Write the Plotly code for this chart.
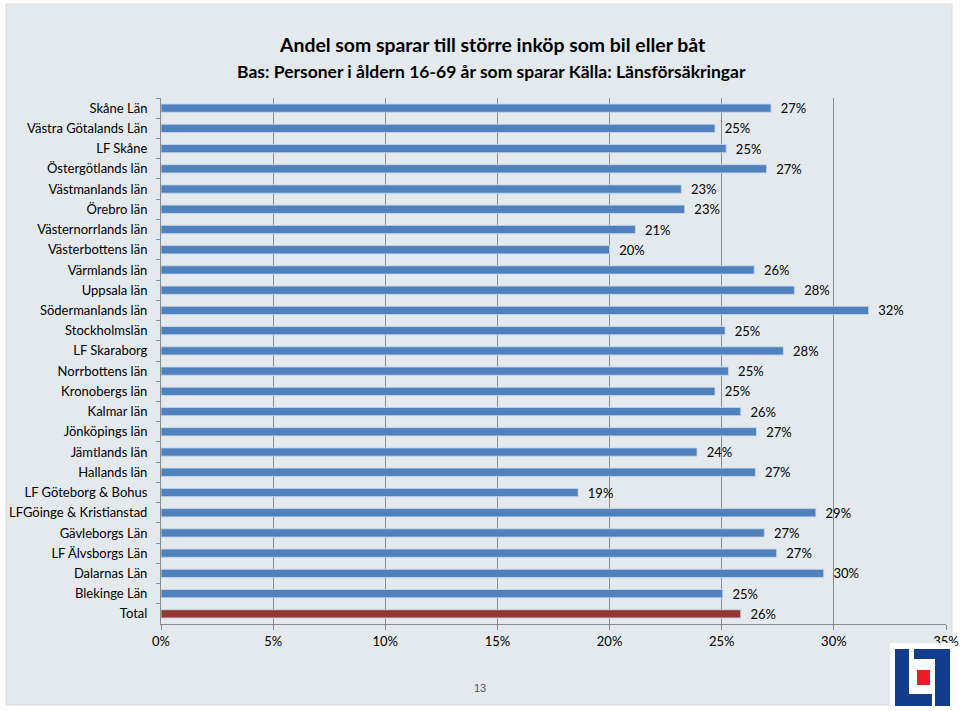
import plotly.graph_objects as go

categories = [
    "Skåne Län", "Västra Götalands Län", "LF Skåne", "Östergötlands län",
    "Västmanlands län", "Örebro län", "Västernorrlands län", "Västerbottens län",
    "Värmlands län", "Uppsala län", "Södermanlands län", "Stockholmslän",
    "LF Skaraborg", "Norrbottens län", "Kronobergs län", "Kalmar län",
    "Jönköpings län", "Jämtlands län", "Hallands län", "LF Göteborg & Bohus",
    "LFGöinge & Kristianstad", "Gävleborgs Län", "LF Älvsborgs Län",
    "Dalarnas Län", "Blekinge Län", "Total",
]
values = [
    27.2, 24.7, 25.2, 27.0, 23.2, 23.35, 21.15, 20.0, 26.45, 28.25, 31.55, 25.15,
    27.75, 25.3, 24.7, 25.85, 26.55, 23.9, 26.5, 18.6, 29.2, 26.9, 27.45, 29.55,
    25.05, 25.85,
]
labels = ["27%", "25%", "25%", "27%", "23%", "23%", "21%", "20%", "26%", "28%",
          "32%", "25%", "28%", "25%", "25%", "26%", "27%", "24%", "27%", "19%",
          "29%", "27%", "27%", "30%", "25%", "26%"]
x_ticks = [0, 5, 10, 15, 20, 25, 30, 35]
x_tick_labels = ["0%", "5%", "10%", "15%", "20%", "25%", "30%", "35%"]

title = "Andel som sparar till större inköp som bil eller båt"
subtitle = "Bas: Personer i åldern 16-69 år som sparar Källa: Länsförsäkringar"

W, H = 960, 711
ML, MR, MT, MB = 161, 14, 98, 87
PW, PH = W - ML - MR, H - MT - MB

def px(x):
    return (x - ML) / PW

def py(y):
    return 1 - (y - MT) / PH

FONT = "Lato, 'Open Sans', sans-serif"
BLUE = "#4f81bd"
RED = "#953735"
colors = [RED if c == "Total" else BLUE for c in categories]

fig = go.Figure()
fig.add_trace(go.Bar(
    x=values, y=categories, orientation="h",
    marker=dict(color=colors, line=dict(color="rgba(200,215,235,0.9)", width=1)),
    text=labels, texttemplate="  %{text}", textposition="outside",
    constraintext="none",
    textfont=dict(family=FONT, size=13, color="#000000"),
    cliponaxis=False, hoverinfo="skip",
))

shapes = []
shapes.append(dict(type="rect", xref="paper", yref="paper", layer="below",
                   x0=px(6), x1=px(952), y0=py(4), y1=py(705),
                   fillcolor="#e4e9ee", line=dict(color="#d5dbe2", width=1)))

def rect(x0, y0, x1, y1, color):
    return dict(type="rect", xref="paper", yref="paper", layer="above",
                x0=px(x0), x1=px(x1), y0=py(y0), y1=py(y1),
                fillcolor=color, line=dict(width=0))
shapes.append(rect(890, 643, 955, 711, "#ffffff"))
LB = "#123d8c"
shapes.append(rect(895, 649, 909, 706, LB))
shapes.append(rect(895, 694, 932, 706, LB))
shapes.append(rect(914, 649, 950, 659, LB))
shapes.append(rect(935, 649, 950, 706, LB))
shapes.append(rect(917, 670, 930, 685, "#ee1c25"))

annotations = [
    dict(text="<b>" + title + "</b>", xref="paper", yref="paper",
         x=px(492), y=py(45), showarrow=False, xanchor="center", yanchor="middle",
         font=dict(family=FONT, size=19.4, color="#000000")),
    dict(text="<b>" + subtitle + "</b>", xref="paper", yref="paper",
         x=px(491), y=py(71), showarrow=False, xanchor="center", yanchor="middle",
         font=dict(family=FONT, size=17.5, color="#000000")),
    dict(text="13", xref="paper", yref="paper",
         x=px(480), y=py(688), showarrow=False, xanchor="center", yanchor="middle",
         font=dict(family="'Liberation Sans Narrow', Arial, sans-serif", size=11, color="#555555")),
]

fig.update_layout(
    width=W, height=H,
    margin=dict(l=ML, r=MR, t=MT, b=MB, autoexpand=False),
    paper_bgcolor="#ffffff", plot_bgcolor="rgba(0,0,0,0)",
    showlegend=False, bargap=0.59,
    shapes=shapes, annotations=annotations,
    font=dict(family=FONT, size=13, color="#000000"),
)
fig.update_xaxes(
    range=[0, 35], tickvals=x_ticks, ticktext=x_tick_labels,
    showgrid=True, gridcolor="#8c8c8c", gridwidth=1,
    showline=True, linecolor="#8c8c8c", linewidth=1,
    ticks="outside", ticklen=5, tickcolor="#8c8c8c",
    tickfont=dict(family=FONT, size=13, color="#000000"),
    zeroline=False, fixedrange=True, automargin=False,
)
fig.update_yaxes(
    autorange="reversed", type="category",
    showline=True, linecolor="#8c8c8c", linewidth=1,
    ticks="outside", ticklen=4, tickcolor="#8c8c8c", tickson="boundaries",
    ticklabelstandoff=10,
    tickfont=dict(family=FONT, size=13, color="#000000"),
    showgrid=False, fixedrange=True, automargin=False,
)

fig.write_html(
    "out.html",
    config={"displayModeBar": False},
    post_script="document.body.style.margin='0';document.body.style.overflow='hidden';",
)
